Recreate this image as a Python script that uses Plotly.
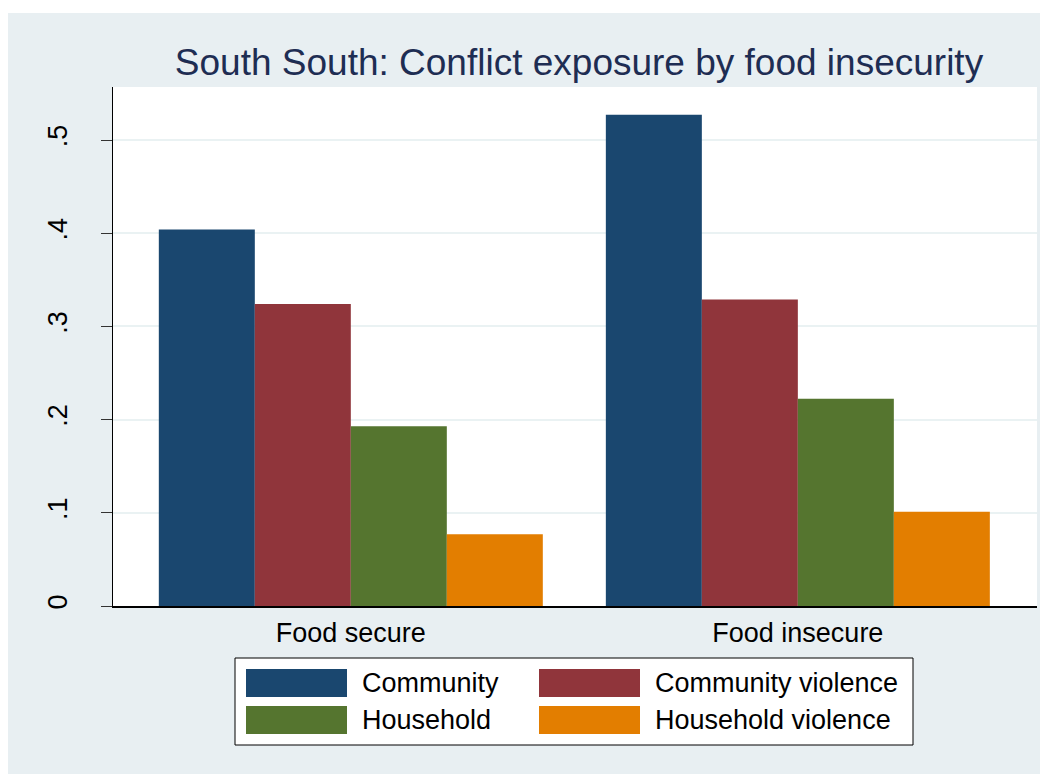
import plotly.graph_objects as go

# ---- data ----
categories = ["Food secure", "Food insecure"]
series_names = ["Community", "Community violence", "Household", "Household violence"]
community = [0.404, 0.527]
community_violence = [0.324, 0.329]
household = [0.193, 0.2225]
household_violence = [0.077, 0.101]
y_tick_vals = [0, 0.1, 0.2, 0.3, 0.4, 0.5]
y_tick_text = ["0", ".1", ".2", ".3", ".4", ".5"]
title_text = "South South: Conflict exposure by food insecurity"

series_values = [community, community_violence, household, household_violence]
colors = ["#1a476f", "#90353b", "#55752f", "#e37e00"]

# ---- layout geometry (page pixels; the page body adds an 8px offset) ----
OFF = 8
W, H = 1048, 774
PL, PR, PT, PB = 113 - OFF, 1037 - OFF, 87 - OFF, 606 - OFF
FONT = "Liberation Sans, Arial, sans-serif"


def px2x(px):
    return (px - OFF - PL) / (PR - PL)


def py2y(py):
    return (PB - (py - OFF)) / (PB - PT)


fig = go.Figure()
for name, vals, col in zip(series_names, series_values, colors):
    fig.add_trace(go.Bar(
        x=categories, y=vals, name=name,
        marker=dict(color=col, line=dict(width=0)),
        showlegend=False,
    ))

shapes = []
annotations = []

# white strip above the light graph region
shapes.append(dict(type="rect", xref="paper", yref="paper",
                   x0=px2x(0), x1=px2x(W + 20), y0=py2y(13), y1=py2y(-5),
                   fillcolor="white", line=dict(width=0), layer="below"))

# custom legend box
shapes.append(dict(type="rect", xref="paper", yref="paper",
                   x0=px2x(235), x1=px2x(913), y0=py2y(745), y1=py2y(658),
                   fillcolor="white", line=dict(color="black", width=1)))

sw_x = [246, 539]
sw_w = 101
txt_x = [362, 655]
row_y = [[669, 697], [706, 734]]
for i, (name, col) in enumerate(zip(series_names, colors)):
    c = i % 2
    r = i // 2
    shapes.append(dict(type="rect", xref="paper", yref="paper",
                       x0=px2x(sw_x[c]), x1=px2x(sw_x[c] + sw_w),
                       y0=py2y(row_y[r][1]), y1=py2y(row_y[r][0]),
                       fillcolor=col, line=dict(width=0)))
    annotations.append(dict(xref="paper", yref="paper",
                            x=px2x(txt_x[c] - 2), y=py2y((row_y[r][0] + row_y[r][1]) / 2),
                            text=name, showarrow=False, xanchor="left", yanchor="middle",
                            font=dict(family=FONT, size=27, color="black")))

fig.update_layout(
    width=W, height=H,
    margin=dict(l=PL, r=W - PR, t=PT, b=H - PB, pad=0),
    paper_bgcolor="#e8eff2",
    plot_bgcolor="white",
    barmode="group",
    bargap=0.141,
    bargroupgap=0,
    showlegend=False,
    title=dict(text=title_text, x=px2x(579), xref="paper", xanchor="center",
               y=1 - (62 - OFF) / H, yref="container", yanchor="middle",
               font=dict(family=FONT, size=37, color="#1e2d53")),
    font=dict(family=FONT, color="black"),
    shapes=shapes,
    annotations=annotations,
)

fig.update_xaxes(
    type="category",
    range=[-0.532, 1.535],
    showline=True, linecolor="black", linewidth=1.5,
    ticks="", showgrid=False,
    tickfont=dict(family=FONT, size=27, color="black"),
    ticklabelstandoff=2,
)
fig.update_yaxes(
    range=[0, 0.5569],
    tickvals=y_tick_vals, ticktext=y_tick_text,
    tickangle=-90,
    ticks="outside", ticklen=11, tickwidth=1, tickcolor="#333333",
    showline=True, linecolor="black", linewidth=1,
    showgrid=True, gridcolor="#eaf2f3", gridwidth=1.5,
    zeroline=False,
    tickfont=dict(family=FONT, size=27, color="black"),
    ticklabelstandoff=23,
)

fig.write_html("out.html", post_script="document.body.style.overflow='hidden';")
